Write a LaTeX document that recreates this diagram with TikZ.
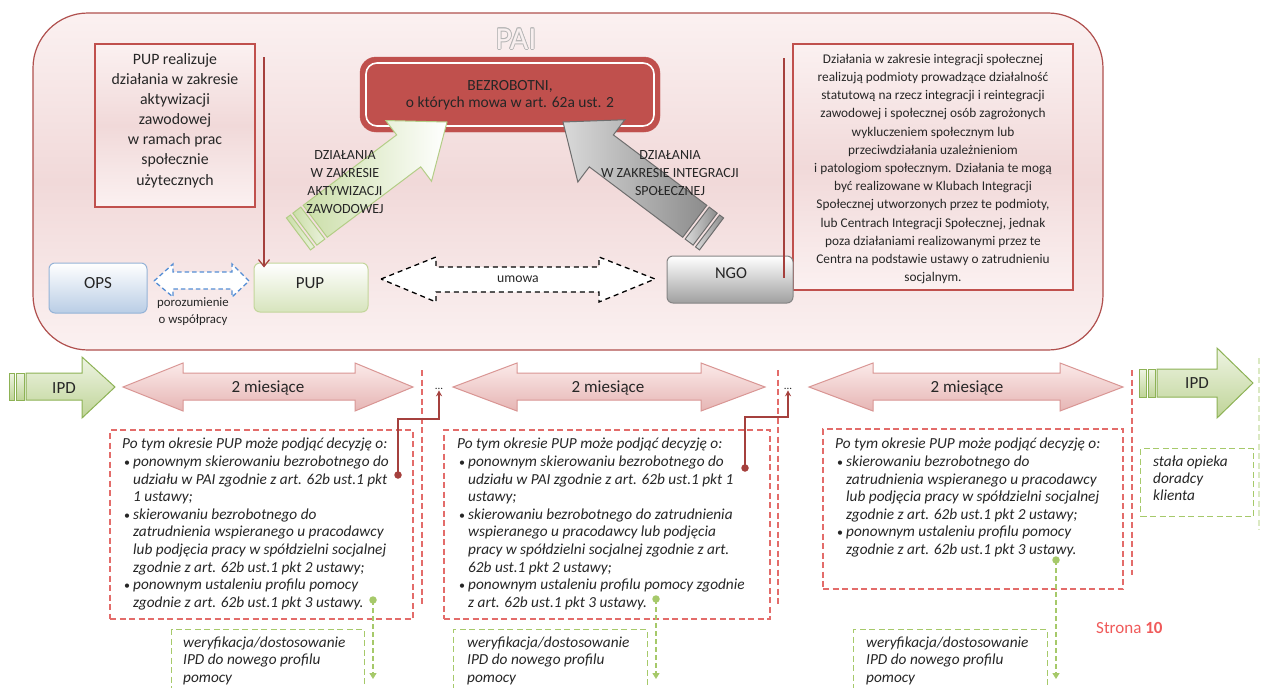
\documentclass[tikz,border=0pt]{standalone}
\usepackage{fontspec}
\setmainfont{Carlito}
\usetikzlibrary{arrows.meta,calc}
\definecolor{txt}{HTML}{262626}
\definecolor{paiborder}{HTML}{B0504E}
\definecolor{paitop}{HTML}{FBF1F1}
\definecolor{paimid}{HTML}{F1D9D9}
\definecolor{paigray}{HTML}{B5B5B5}
\definecolor{paifill}{HTML}{F8EFEF}
\definecolor{boxred}{HTML}{C0504D}
\definecolor{redfill}{HTML}{C0504D}
\definecolor{darkred}{HTML}{A5403D}
\definecolor{greenbord}{HTML}{B3CD86}
\definecolor{greenarrow}{HTML}{CBDEA8}
\definecolor{grayL}{HTML}{D9D9D9}
\definecolor{grayR}{HTML}{8C8C8C}
\definecolor{grayborder}{HTML}{6E6E6E}
\definecolor{opsfill}{HTML}{B9CDE5}
\definecolor{opsborder}{HTML}{95B3D7}
\definecolor{pupfill}{HTML}{D7E4BD}
\definecolor{pupborder}{HTML}{C3D69B}
\definecolor{ngofill}{HTML}{A0A0A0}
\definecolor{ngoborder}{HTML}{858585}
\definecolor{bluedash}{HTML}{558ED5}
\definecolor{pinktop}{HTML}{FBEAE9}
\definecolor{pinkbot}{HTML}{E6B5B4}
\definecolor{pinkborder}{HTML}{D99694}
\definecolor{ipdtop}{HTML}{EEF4E3}
\definecolor{ipdbot}{HTML}{BFD497}
\definecolor{ipdborder}{HTML}{8DB255}
\definecolor{reddash}{HTML}{E36C6A}
\definecolor{greendash}{HTML}{A6C96A}
\definecolor{strona}{HTML}{F05A5A}
\newcommand{\bulitem}{\hspace*{2pt}\makebox[9pt][l]{\upshape\fontsize{12}{12}\selectfont•}}
\newcommand{\contitem}{\hspace*{11pt}}
\tikzset{
  notebox/.style={draw=boxred, line width=1.2pt, top color=paitop, bottom color=paitop, middle color=paimid, inner sep=0pt},
  roundbox/.style={rounded corners=6pt, line width=1pt, inner sep=0pt},
  bigarrow/.style={line width=1pt},
  pinkarrow/.style={draw=pinkborder, line width=1pt, top color=pinktop, bottom color=pinkbot},
  ipdarrow/.style={draw=ipdborder, line width=1pt, top color=ipdtop, bottom color=ipdbot},
  redbox/.style={draw=reddash, line width=1.4pt, dash pattern=on 6pt off 3.5pt, inner sep=0pt},
  greenbox/.style={draw=greendash, line width=1.4pt, dash pattern=on 6pt off 3.5pt, inner sep=0pt},
  sep/.style={draw=reddash, line width=1.4pt, dash pattern=on 6pt off 3.5pt},
  decitext/.style={anchor=north west, inner sep=0pt, align=left, font=\fontsize{15.3}{17.6}\selectfont\itshape},
  elbow/.style={darkred, line width=1.3pt, -{Stealth[length=6pt,width=6pt]}},
  greenlink/.style={greendash, line width=1.4pt, dash pattern=on 5pt off 3pt, -{Triangle[length=6pt,width=7pt]}},
  reddot/.style={circle, fill=darkred, inner sep=0pt, minimum size=7.5pt},
  greendot/.style={circle, fill=greendash, inner sep=0pt, minimum size=7.5pt},
}
\begin{document}
\begin{tikzpicture}[x=1pt,y=-1pt,text=txt]
\useasboundingbox (0,0) rectangle (1262,688);
\clip (0,0) rectangle (1262,688);
\fill[white] (0,0) rectangle (1262,688);

% ---------- PAI frame
\shade[draw=paiborder, line width=1.2pt, rounded corners=55pt, top color=paitop, bottom color=paitop, middle color=paimid] (33,13) rectangle (1103,350);
\foreach \dx/\dy in {0.8/0,-0.8/0,0/0.8,0/-0.8,0.6/0.6,-0.6/0.6,0.6/-0.6,-0.6/-0.6}
  \node[text=paigray, font=\fontsize{32}{34}\selectfont] at (516+\dx,39+\dy) {PAI};
\node[text=paifill, font=\fontsize{32}{34}\selectfont] (pai) at (516,39) {PAI};

% ---------- left note
\node[notebox, minimum width=160pt, minimum height=163pt] (pupnote) at (175,125.5) {};
\node[font=\fontsize{15.8}{20.1}\selectfont, align=center] (pupnotetxt) at (175,120.5) {PUP realizuje\\działania w zakresie\\aktywizacji\\zawodowej\\w ramach prac\\społecznie\\użytecznych};

% ---------- right note
\node[notebox, minimum width=280pt, minimum height=246pt] (ngonote) at (933,167) {};
\node[font=\fontsize{13.3}{18.2}\selectfont, align=center] (ngonotetxt) at (933,169) {Działania w zakresie integracji społecznej\\realizują podmioty prowadzące działalność\\statutową na rzecz integracji i reintegracji\\zawodowej i społecznej osób zagrożonych\\wykluczeniem społecznym lub\\przeciwdziałania uzależnieniom\\i patologiom społecznym. Działania te mogą\\być realizowane w Klubach Integracji\\Społecznej utworzonych przez te podmioty,\\lub Centrach Integracji Społecznej, jednak\\poza działaniami realizowanymi przez te\\Centra na podstawie ustawy o zatrudnieniu\\socjalnym.};

% ---------- bottom boxes of PAI
\node[roundbox, draw=opsborder, top color=white, bottom color=opsfill, minimum width=98pt, minimum height=50pt] (ops) at (98,288) {};
\node[font=\fontsize{17}{18}\selectfont] (opstxt) at (98,283) {OPS};
\node[roundbox, draw=pupborder, top color=white, bottom color=pupfill, minimum width=114pt, minimum height=49pt] (pup) at (311,287.5) {};
\node[font=\fontsize{17}{18}\selectfont] (puptxt) at (310,283) {PUP};
\node[roundbox, draw=ngoborder, top color=white, bottom color=ngofill, minimum width=126pt, minimum height=47pt] (ngo) at (730,279.5) {};
\node[font=\fontsize{16.5}{18}\selectfont] (ngotxt) at (731,273) {NGO};

% ---------- BEZROBOTNI
\node[fill=redfill, draw=redfill, rounded corners=16pt, minimum width=300pt, minimum height=75pt, inner sep=0pt] (bez) at (510,94.5) {};
\draw[white, line width=1.6pt, rounded corners=11pt] (366,63) rectangle (654,126);
\node[font=\fontsize{15.5}{17}\selectfont, align=center] (beztxt) at (510,95) {BEZROBOTNI,\\o których mowa w art. 62a ust. 2};

% ---------- diagonal arrows
\begin{scope}[shift={(447,122)}, rotate=37]
  \shade[bigarrow, draw=greenbord, left color=greenarrow, right color=white] (0,0) -- (-48,-38) -- (-48,-20) -- (-165,-20) -- (-165,20) -- (-48,20) -- (-48,38) -- cycle;
  \shade[bigarrow, draw=greenbord, left color=greenarrow, right color=white!60!greenarrow] (-168,-20) rectangle (-178,20);
  \shade[bigarrow, draw=greenbord, left color=greenarrow, right color=white!60!greenarrow] (-181,-20) rectangle (-186,20);
\end{scope}
\begin{scope}[shift={(563,122)}, rotate=143]
  \shade[bigarrow, draw=grayborder, left color=grayL, right color=grayR] (0,0) -- (-48,-39) -- (-48,-20) -- (-165,-20) -- (-165,20) -- (-48,20) -- (-48,39) -- cycle;
  \shade[bigarrow, draw=grayborder, left color=grayL, right color=grayR] (-168,-20) rectangle (-178,20);
  \shade[bigarrow, draw=grayborder, left color=grayL, right color=grayR] (-181,-20) rectangle (-186,20);
\end{scope}
\node[font=\fontsize{14}{18}\selectfont, align=center] (akt) at (345,182.5) {DZIAŁANIA\\W ZAKRESIE\\AKTYWIZACJI\\ZAWODOWEJ};
\node[font=\fontsize{14}{18}\selectfont, align=center] (integ) at (670,173.5) {DZIAŁANIA\\W ZAKRESIE INTEGRACJI\\SPOŁECZNEJ};

% ---------- connectors in PAI
\coordinate (pupline) at (264,57);
\draw[darkred, line width=1.2pt, -{Straight Barb[length=7pt,width=11pt]}] (pupline) -- ($(pupline |- pup.north)+(0,5)$);
\coordinate (ngoline) at (784,58);
\draw[darkred, line width=1.2pt] (ngoline) -- (784,278);

% dashed double arrows
\draw[draw=bluedash, fill=white, line width=1.3pt, dash pattern=on 4.5pt off 3pt] (154,281) -- (173,264) -- (173,272) -- (232,272) -- (232,264) -- (249,281) -- (232,297) -- (232,289) -- (173,289) -- (173,297) -- cycle;
\node[font=\fontsize{12.8}{17}\selectfont, align=center] (poroz) at (193,311.5) {porozumienie\\o współpracy};
\draw[draw=black, fill=white, line width=1.3pt, dash pattern=on 5pt off 4pt] (381,279) -- (436,257) -- (436,267) -- (599,267) -- (599,257) -- (655,279) -- (599,302) -- (599,292) -- (436,292) -- (436,302) -- cycle;
\node[font=\fontsize{13.7}{15}\selectfont] (umowa) at (518,279) {umowa};

% ---------- timeline
\shade[ipdarrow] (9,373) rectangle (14,400);
\shade[ipdarrow] (16,373) rectangle (24,400);
\shade[ipdarrow] (26,373) -- (82,373) -- (82,357) -- (115,387) -- (82,418) -- (82,400) -- (26,400) -- cycle;
\node[font=\fontsize{17}{18}\selectfont] (ipd1) at (64,388) {IPD};

\shade[ipdarrow] (1139,369) rectangle (1146,397);
\shade[ipdarrow] (1148,369) rectangle (1155,397);
\shade[ipdarrow] (1157,369) -- (1217,369) -- (1217,348) -- (1253,383) -- (1217,418) -- (1217,397) -- (1157,397) -- cycle;
\node[font=\fontsize{17}{18}\selectfont] (ipd2) at (1197,383) {IPD};

\shade[pinkarrow] (123,387) -- (183,363) -- (183,373) -- (355,373) -- (355,363) -- (413,387) -- (355,411) -- (355,400) -- (183,400) -- (183,411) -- cycle;
\node[font=\fontsize{17}{18}\selectfont] (m1) at (268,388) {2 miesiące};
\shade[pinkarrow] (453,387) -- (517,363) -- (517,373) -- (701,373) -- (701,363) -- (765,387) -- (701,411) -- (701,400) -- (517,400) -- (517,411) -- cycle;
\node[font=\fontsize{17}{18}\selectfont] (m2) at (608,388) {2 miesiące};
\shade[pinkarrow] (809,387) -- (873,363) -- (873,373) -- (1060,373) -- (1060,363) -- (1123,387) -- (1060,411) -- (1060,400) -- (873,400) -- (873,411) -- cycle;
\node[font=\fontsize{17}{18}\selectfont] (m3) at (967,388) {2 miesiące};

% separators
\draw[sep] (422,370) -- (422,607);
\draw[sep] (778,370) -- (778,607);
\draw[sep] (1132,370) -- (1132,575);
\draw[greendash!40, line width=1.2pt, dash pattern=on 6pt off 3.5pt] (1259,358) -- (1259,530);

% dots "..."
\node[font=\fontsize{11}{11}\selectfont, anchor=base, inner sep=1pt] (dots1) at (439,389) {...};
\node[font=\fontsize{11}{11}\selectfont, anchor=base, inner sep=1pt] (dots2) at (788,389) {...};

% decision boxes
\node[redbox, minimum width=303pt, minimum height=189pt] (dec1) at (261.5,524.5) {};
\node[redbox, minimum width=326pt, minimum height=189pt] (dec2) at (607,524.5) {};
\node[redbox, minimum width=300pt, minimum height=160pt] (dec3) at (973,509) {};

\node[decitext] (dec1txt) at (122,438) {Po tym okresie PUP może podjąć decyzję o:\\
\bulitem ponownym skierowaniu bezrobotnego do\\
\contitem udziału w PAI zgodnie z art. 62b ust.1 pkt\\
\contitem 1 ustawy;\\
\bulitem skierowaniu bezrobotnego do\\
\contitem zatrudnienia wspieranego u pracodawcy\\
\contitem lub podjęcia pracy w spółdzielni socjalnej\\
\contitem zgodnie z art. 62b ust.1 pkt 2 ustawy;\\
\bulitem ponownym ustaleniu profilu pomocy\\
\contitem zgodnie z art. 62b ust.1 pkt 3 ustawy.};

\node[decitext] (dec2txt) at (457,438) {Po tym okresie PUP może podjąć decyzję o:\\
\bulitem ponownym skierowaniu bezrobotnego do\\
\contitem udziału w PAI zgodnie z art. 62b ust.1 pkt 1\\
\contitem ustawy;\\
\bulitem skierowaniu bezrobotnego do zatrudnienia\\
\contitem wspieranego u pracodawcy lub podjęcia\\
\contitem pracy w spółdzielni socjalnej zgodnie z art.\\
\contitem 62b ust.1 pkt 2 ustawy;\\
\bulitem ponownym ustaleniu profilu pomocy zgodnie\\
\contitem z art. 62b ust.1 pkt 3 ustawy.};

\node[decitext] (dec3txt) at (835,438) {Po tym okresie PUP może podjąć decyzję o:\\
\bulitem skierowaniu bezrobotnego do\\
\contitem zatrudnienia wspieranego u pracodawcy\\
\contitem lub podjęcia pracy w spółdzielni socjalnej\\
\contitem zgodnie z art. 62b ust.1 pkt 2 ustawy;\\
\bulitem ponownym ustaleniu profilu pomocy\\
\contitem zgodnie z art. 62b ust.1 pkt 3 ustawy.};

% green boxes
\node[greenbox, minimum width=193pt, minimum height=80pt, anchor=north west] (ver1) at (171,629) {};
\node[greenbox, minimum width=194pt, minimum height=80pt, anchor=north west] (ver2) at (453,629) {};
\node[greenbox, minimum width=194pt, minimum height=80pt, anchor=north west] (ver3) at (853,629) {};
\node[greenbox, minimum width=113pt, minimum height=68pt, anchor=north west] (opieka) at (1140,448) {};
\node[decitext] (ver1txt) at (183,636.5) {weryfikacja/dostosowanie\\IPD do nowego profilu\\pomocy};
\node[decitext] (ver2txt) at (467,636.5) {weryfikacja/dostosowanie\\IPD do nowego profilu\\pomocy};
\node[decitext] (ver3txt) at (866,636.5) {weryfikacja/dostosowanie\\IPD do nowego profilu\\pomocy};
\node[decitext, font=\fontsize{15.3}{17}\selectfont\itshape] (opiekatxt) at (1153,456) {stała opieka\\doradcy\\klienta};

% elbow connectors
\node[reddot] (d1) at (398,475) {};
\node[reddot] (d2) at (745,468) {};
\coordinate (k1) at (439,419);
\coordinate (k2) at (788,417);
\draw[elbow] (d1.center) |- (k1) -- (dots1.south);
\draw[elbow] (d2.center) |- (k2) -- (dots2.south);

% green links
\node[greendot] (g1) at (373,600) {};
\node[greendot] (g2) at (656,599) {};
\node[greendot] (g3) at (1056,560) {};
\coordinate (e1) at (373,679);
\coordinate (e2) at (656,679);
\coordinate (e3) at (1056,679);
\draw[greenlink] (g1.center) -- (e1);
\draw[greenlink] (g2.center) -- (e2);
\draw[greenlink] (g3.center) -- (e3);

% page label
\node[text=strona, font=\fontsize{17}{18}\selectfont, anchor=base west, inner sep=0pt] (strona) at (1096,633) {Strona \textbf{10}};
\end{tikzpicture}
\end{document}
